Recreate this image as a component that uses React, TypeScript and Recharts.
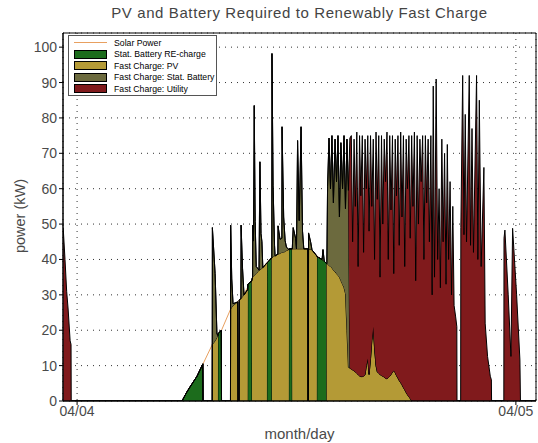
import { ComposedChart, Area, XAxis, YAxis, CartesianGrid, ReferenceArea } from 'recharts';

// time of day in hours (0 = 04/04 00:00, 24 = 04/05 00:00)
const hours = [
  -0.76, -0.66, -0.57, -0.49, -0.38, -0.33, -0.32,
  5.74, 6.0, 6.18, 6.56, 6.88, 6.89,
  7.39, 7.4, 7.55, 7.65, 7.7, 7.71, 7.89, 7.9,
  8.39, 8.4, 8.46, 8.53, 8.79, 8.8, 8.86, 8.87, 8.96, 8.97, 9.05, 9.13, 9.33, 9.34, 9.56,
  9.57, 9.6, 9.61, 9.65, 9.69, 9.74, 9.8, 9.95, 10.0, 10.06, 10.11, 10.16, 10.38, 10.39, 10.65,
  10.66, 10.72, 10.8, 10.83, 10.98, 10.99, 11.1, 11.2, 11.21, 11.3, 11.38, 11.45, 11.58, 11.59, 11.76,
  11.77, 11.82, 11.95, 12.0, 12.06, 12.15, 12.25, 12.33, 12.4, 12.62, 12.63, 12.65, 12.66, 12.78, 12.85, 13.11,
  13.12, 13.4, 13.45, 13.52, 13.65,
  13.66, 13.7, 13.78, 13.86, 13.94, 14.02, 14.11, 14.19, 14.27, 14.35, 14.43, 14.52, 14.6, 14.68, 14.76, 14.84, 14.92,
  15.0, 15.07, 15.15, 15.22, 15.3, 15.37, 15.45, 15.52, 15.6, 15.67,
  15.75, 15.82, 15.9, 15.97, 16.05, 16.12, 16.2, 16.27, 16.35, 16.42,
  16.5, 16.57, 16.65, 16.72, 16.8, 16.87, 16.95, 17.02, 17.1, 17.17,
  17.25, 17.32, 17.4, 17.47, 17.55, 17.62, 17.7, 17.77, 17.85, 17.92,
  18.0, 18.07, 18.15, 18.22, 18.3, 18.37, 18.45, 18.52, 18.6, 18.67,
  18.75, 18.82, 18.9, 18.97, 19.05, 19.12, 19.2, 19.27, 19.35, 19.42,
  19.48, 19.55, 19.64, 19.72, 19.8, 19.87, 19.95, 20.02, 20.1, 20.18, 20.25, 20.32, 20.4, 20.48, 20.55, 20.62, 20.7, 20.77, 20.78,
  20.98, 20.99, 21.09, 21.16, 21.23, 21.3, 21.45, 21.52, 21.6, 21.68, 21.85, 21.92, 22.0, 22.1, 22.25, 22.32, 22.45, 22.6, 22.66, 22.67,
  23.34, 23.35, 23.4, 23.58, 23.73, 23.82, 24.04, 24.22, 24.25, 25.1,
];

// kW, Stat. Battery RE-charge
const reCharge = [
  0, 0, 0, 0, 0, 0, 0,
  0, 2.5, 4, 7, 10.5, 0,
  0, 0, 0, 0, 0, 19, 20, 0,
  0, 0, 0, 0, 0, 0, 0, 0, 0, 0, 0, 0, 0, 33, 34,
  0, 0, 0, 0, 0, 0, 0, 0, 0, 0, 0, 0, 0, 39, 40.5,
  0, 0, 0, 0, 0, 0, 0, 0, 0, 0, 0, 0, 0, 43, 43,
  0, 0, 0, 0, 0, 0, 0, 0, 0, 0, 0, 0, 0, 0, 0, 0,
  40.8, 40, 39.8, 39.5, 38.8,
  0, 0, 0, 0, 0, 0, 0, 0, 0, 0, 0, 0, 0, 0, 0, 0, 0,
  0, 0, 0, 0, 0, 0, 0, 0, 0, 0,
  0, 0, 0, 0, 0, 0, 0, 0, 0, 0,
  0, 0, 0, 0, 0, 0, 0, 0, 0, 0,
  0, 0, 0, 0, 0, 0, 0, 0, 0, 0,
  0, 0, 0, 0, 0, 0, 0, 0, 0, 0,
  0, 0, 0, 0, 0, 0, 0, 0, 0, 0,
  0, 0, 0, 0, 0, 0, 0, 0, 0, 0, 0, 0, 0, 0, 0, 0, 0, 0, 0,
  0, 0, 0, 0, 0, 0, 0, 0, 0, 0, 0, 0, 0, 0, 0, 0, 0, 0, 0, 0,
  0, 0, 0, 0, 0, 0, 0, 0, 0, 0,
];

// kW, Fast Charge: PV
const pvCharge = [
  0, 0, 0, 0, 0, 0, 0,
  0, 0, 0, 0, 0, 0,
  0, 16, 17, 18, 18.5, 0, 0, 0,
  0, 26, 26.5, 27, 28, 0, 0, 28.5, 29, 29, 29.5, 30, 31.5, 0, 0,
  34.5, 35, 35, 35.2, 35.5, 35.7, 36, 37, 37, 37.3, 37.5, 37.7, 39, 0, 0,
  40.5, 40.8, 41, 41, 41.5, 41.5, 41.7, 42, 42, 42, 42.3, 42.5, 42.8, 0, 0,
  43, 43, 43, 43, 43, 43, 43, 43, 43, 43, 0, 0, 43, 42.8, 42.7, 41,
  0, 0, 0, 0, 0,
  38.8, 38.7, 38.3, 38, 37.6, 37, 36.5, 36, 35.5, 35, 34, 33, 32, 30.4, 20, 9.5, 9.3,
  9, 8.8, 8.5, 8.3, 7.8, 7.5, 7.1, 6.9, 6.9, 7,
  7.5, 10, 12, 7.5, 12, 17, 21, 15, 10, 8.3,
  7.8, 7.5, 7.2, 7, 6.8, 6.4, 6.3, 6.6, 7, 7.5,
  8.2, 8.6, 8, 7.2, 6.5, 5.8, 5.2, 4.6, 3.8, 3.2,
  2.4, 1.8, 1.2, 0.7, 0.1, 0, 0, 0, 0, 0,
  0, 0, 0, 0, 0, 0, 0, 0, 0, 0,
  0, 0, 0, 0, 0, 0, 0, 0, 0, 0, 0, 0, 0, 0, 0, 0, 0, 0, 0,
  0, 0, 0, 0, 0, 0, 0, 0, 0, 0, 0, 0, 0, 0, 0, 0, 0, 0, 0, 0,
  0, 0, 0, 0, 0, 0, 0, 0, 0, 0,
];

// kW, Fast Charge: Stat. Battery
const battCharge = [
  0, 0, 0, 0, 0, 0, 0,
  0, 0, 0, 0, 0, 0,
  0, 33, 19, 1, 0, 0, 0, 0,
  0, 23.7, 8, 0.5, 0, 0, 0, 0, 0, 20.7, 8, 0, 0, 0, 0,
  0, 0, 14.7, 10, 48, 15, 2, 0, 30.6, 10, 7.5, 0, 0, 0, 0,
  57.7, 20, 3, 0, 0, 8, 4, 4, 35.5, 10, 3, 1, 0, 0, 0,
  0, 6, 3, 0, 30.6, 8, 34.5, 5, 0, 0, 0, 0, 4.5, 2, 0, 0,
  0, 0, 3, 0, 0,
  0, 22, 36, 22, 37.4, 19, 37.5, 26, 39.5, 17, 39, 27, 43, 24, 54, 50, 0,
  0, 0, 0, 0, 0, 0, 0, 0, 0, 0,
  0, 0, 0, 0, 0, 0, 0, 0, 0, 0,
  0, 0, 0, 0, 0, 0, 0, 0, 0, 0,
  0, 0, 0, 0, 0, 0, 0, 0, 0, 0,
  0, 0, 0, 0, 0, 0, 0, 0, 0, 0,
  0, 0, 0, 0, 0, 0, 0, 0, 0, 0,
  0, 0, 0, 0, 0, 0, 0, 0, 0, 0, 0, 0, 0, 0, 0, 0, 0, 0, 0,
  0, 0, 0, 0, 0, 0, 0, 0, 0, 0, 0, 0, 0, 0, 0, 0, 0, 0, 0, 0,
  0, 0, 0, 0, 0, 0, 0, 0, 0, 0,
];

// kW, Fast Charge: Utility
const gridCharge = [
  49, 40, 31, 26, 17, 16, 0,
  0, 0, 0, 0, 0, 0,
  0, 0, 0, 0, 0, 0, 0, 0,
  0, 0, 0, 0, 0, 0, 0, 0, 0, 0, 0, 0, 0, 0, 0,
  0, 0, 0, 0, 0, 0, 0, 0, 0, 0, 0, 0, 0, 0, 0,
  0, 0, 0, 0, 0, 0, 0, 0, 0, 0, 0, 0, 0, 0, 0,
  0, 0, 0, 0, 0, 0, 0, 0, 0, 0, 0, 0, 0, 0, 0, 0,
  0, 0, 0, 0, 0,
  0, 0, 0, 0, 0, 0, 0, 0, 0, 0, 0, 0, 0, 0, 0, 0, 65,
  66, 36.2, 65.5, 46.7, 68.2, 30.5, 67.9, 51.1, 68.1, 35,
  66.5, 50, 63, 40.5, 63, 38, 53, 25, 66, 48.7,
  67.2, 27.5, 67.8, 43, 67.2, 55.6, 69.7, 33.4, 68, 46.5,
  66.8, 27.4, 66, 50.8, 68.5, 38.2, 70.8, 47.4, 71.2, 34.8,
  71.6, 58.2, 73.8, 45.3, 74.9, 55, 76, 34, 75, 50,
  74, 62, 75, 40, 75, 56, 74, 45, 75, 30,
  89, 35, 91, 40, 60, 32, 74, 45, 70, 33, 72.5, 40, 62, 30, 55, 27, 24, 21, 0,
  0, 49, 92, 47, 81, 45, 92, 44, 77, 42, 92, 40, 85, 38, 66, 22, 12.6, 7, 6, 0,
  0, 46, 48.3, 30, 12.6, 48.8, 30, 11.6, 0, 0,
];

// Solar Power curve
const solarHours = [5.74, 6.0, 6.18, 6.56, 6.89, 7.4, 7.9, 8.4, 8.96, 9.56, 10.0, 10.65, 11.2, 11.76, 12.4, 12.85, 13.12, 13.66, 14.27, 14.68, 14.84, 15.5, 16.19, 16.9, 17.3, 18.05, 18.32];
const solarKw = [0, 2.5, 4, 7, 10.5, 16, 20, 26, 29, 34, 37, 40.5, 42, 43, 43.2, 42.7, 41, 38.8, 35.5, 30.4, 9.5, 6.9, 21, 6.3, 8.6, 2, 0];

const dayTicks = [0, 24];
const dayLabels = ['04/04', '04/05'];
const powerTicks = [0, 10, 20, 30, 40, 50, 60, 70, 80, 90, 100];

const rows = hours.map((t, i) => ({
  t,
  recharge: reCharge[i],
  pv: pvCharge[i],
  batt: battCharge[i],
  grid: gridCharge[i],
}));
const solarRows = solarHours.map((t, i) => ({ t, kw: solarKw[i] }));

const COLORS = {
  solar: '#e8a060',
  recharge: '#1c6c1c',
  pv: '#b49a36',
  batt: '#6c6a3e',
  grid: '#801a1c',
};

const legendItems = [
  { label: 'Solar Power', color: COLORS.solar, line: true },
  { label: 'Stat. Battery RE-charge', color: COLORS.recharge },
  { label: 'Fast Charge: PV', color: COLORS.pv },
  { label: 'Fast Charge: Stat. Battery', color: COLORS.batt },
  { label: 'Fast Charge: Utility', color: COLORS.grid },
];

const X_MIN = -0.77;
const X_MAX = 25.1;
const Y_MAX = 104;
const font = '"Liberation Sans", Arial, sans-serif';
const textGrey = '#4a4a4a';

export default function App() {
  return (
    <div style={{ position: 'absolute', left: 0, top: 0, width: 538, height: 443, background: '#fff', fontFamily: font }}>
      <ComposedChart width={538} height={443} data={rows} margin={{ top: 33, right: 2, bottom: 0, left: 0 }}>
        <CartesianGrid stroke="#333" strokeDasharray="1 5" />
        <XAxis
          type="number"
          dataKey="t"
          domain={[X_MIN, X_MAX]}
          ticks={dayTicks}
          allowDataOverflow
          height={42}
          tickSize={4}
          tickMargin={1}
          stroke="#000"
          tick={{ fill: textGrey, fontSize: 14, fontFamily: font }}
          tickFormatter={(v) => dayLabels[dayTicks.indexOf(v)]}
          label={{ value: 'month/day', position: 'insideBottom', offset: 4, fill: textGrey, fontSize: 15, fontFamily: font }}
        />
        <YAxis
          type="number"
          domain={[0, Y_MAX]}
          ticks={powerTicks}
          allowDataOverflow
          width={63}
          tickSize={4}
          tickMargin={2}
          stroke="#000"
          tick={{ fill: textGrey, fontSize: 14, fontFamily: font }}
        />
        <Area data={solarRows} dataKey="kw" type="linear" stroke={COLORS.solar} strokeWidth={1} fill="none" dot={false} activeDot={false} isAnimationActive={false} />
        <Area dataKey="recharge" stackId="p" type="linear" stroke="#000" strokeWidth={1} fill={COLORS.recharge} fillOpacity={1} dot={false} activeDot={false} isAnimationActive={false} />
        <Area dataKey="pv" stackId="p" type="linear" stroke="#000" strokeWidth={1} fill={COLORS.pv} fillOpacity={1} dot={false} activeDot={false} isAnimationActive={false} />
        <Area dataKey="batt" stackId="p" type="linear" stroke="#000" strokeWidth={1} fill={COLORS.batt} fillOpacity={1} dot={false} activeDot={false} isAnimationActive={false} />
        <Area dataKey="grid" stackId="p" type="linear" stroke="#000" strokeWidth={1} fill={COLORS.grid} fillOpacity={1} dot={false} activeDot={false} isAnimationActive={false} />
        <ReferenceArea x1={X_MIN} x2={X_MAX} y1={0} y2={Y_MAX} fill="none" stroke="#000" strokeWidth={1} />
      </ComposedChart>

      <div style={{ position: 'absolute', top: 4, left: 63, width: 473, textAlign: 'center', fontSize: 15, letterSpacing: 0.6, color: '#444', whiteSpace: 'nowrap' }}>
        PV and Battery Required to Renewably Fast Charge
      </div>

      <div style={{ position: 'absolute', left: 20, top: 216, transform: 'translate(-50%, -50%) rotate(-90deg)', fontSize: 14.5, color: textGrey, whiteSpace: 'nowrap' }}>
        power (kW)
      </div>

      <div style={{ position: 'absolute', left: 68, top: 35, width: 147, height: 58, border: '1px solid #555', background: '#fff', boxSizing: 'content-box', paddingTop: 1 }}>
        {legendItems.map((item) => (
          <div key={item.label} style={{ display: 'flex', alignItems: 'center', height: 11.5 }}>
            <div style={{ width: 33, marginLeft: 5, marginRight: 7, display: 'flex', alignItems: 'center' }}>
              {item.line ? (
                <div style={{ width: 33, height: 1, background: item.color }} />
              ) : (
                <div style={{ width: 31, height: 7, background: item.color, border: '1px solid #000' }} />
              )}
            </div>
            <span style={{ fontSize: 8.7, color: '#000', whiteSpace: 'nowrap' }}>{item.label}</span>
          </div>
        ))}
      </div>
    </div>
  );
}
